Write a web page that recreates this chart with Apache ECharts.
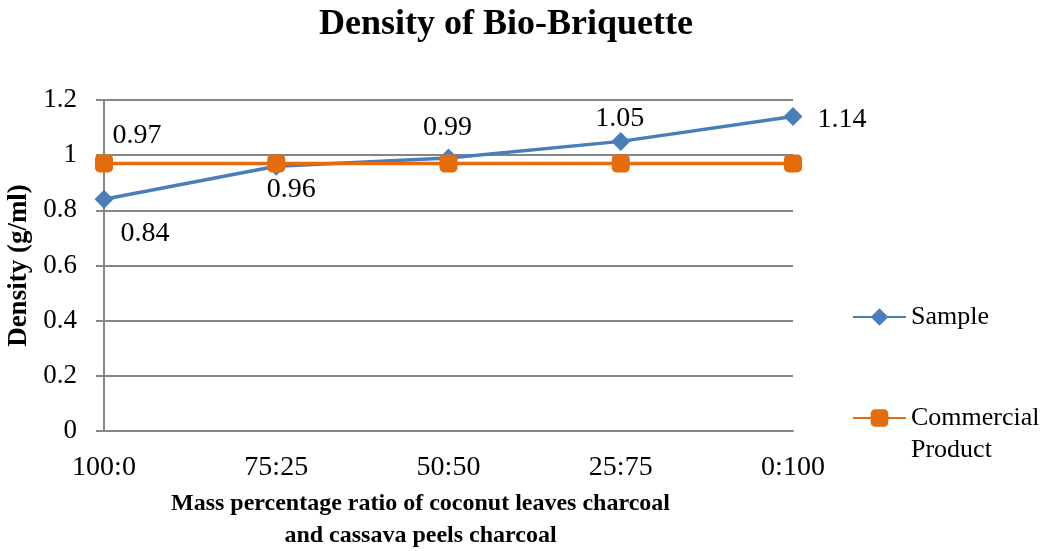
<!DOCTYPE html>
<html>
<head>
<meta charset="utf-8">
<script src="https://cdn.jsdelivr.net/npm/echarts@6/dist/echarts.min.js"></script>
<style>
  html, body { margin: 0; padding: 0; background: #fff; }
  #main { width: 1045px; height: 551px; }
</style>
</head>
<body>
<div id="main"></div>
<script>
const ratios = ['100:0', '75:25', '50:50', '25:75', '0:100'];
const sampleDensity = [0.84, 0.96, 0.99, 1.05, 1.14];
const commercialDensity = [0.97, 0.97, 0.97, 0.97, 0.97];
const yTicks = [0, 0.2, 0.4, 0.6, 0.8, 1, 1.2];

const myChart = echarts.init(document.getElementById('main'));
const serif = '"Liberation Serif", "Times New Roman", serif';

// label offsets from each marker, as in the original figure
const sampleOffsets = [[41, 34], [15, 23], [-1, -30], [-1, -23], [49, 3]];

let option = {
    animation: false,
    title: {
        text: 'Density of Bio-Briquette',
        left: 314,
        top: 2,
        textStyle: { fontFamily: serif, fontSize: 36, fontWeight: 'bold', color: '#000' }
    },
    legend: [
        {
            data: ['Sample'],
            left: 847,
            top: 299,
            itemWidth: 53,
            itemHeight: 22,
            textStyle: { fontFamily: serif, fontSize: 26, color: '#000' }
        },
        {
            data: ['Commercial Product'],
            left: 847,
            top: 365,
            itemWidth: 53,
            itemHeight: 22,
            // blank first line so the marker sits beside "Commercial"
            formatter: function (name) { return ' \n' + name.replace(' ', '\n'); },
            textStyle: { fontFamily: serif, fontSize: 26, lineHeight: 32, color: '#000' }
        }
    ],
    grid: { left: 104, right: 252, top: 100, bottom: 120, outerBoundsMode: 'none' },
    xAxis: {
        type: 'category',
        data: ratios,
        boundaryGap: false,
        name: 'Mass percentage ratio of coconut leaves charcoal\nand cassava peels charcoal',
        nameLocation: 'middle',
        nameGap: 57,
        nameTextStyle: { fontFamily: serif, fontSize: 24, fontWeight: 'bold', color: '#000', lineHeight: 32, padding: [0, 56, 0, 0] },
        axisLine: { lineStyle: { color: '#868686', width: 2 } },
        axisTick: { show: false },
        axisLabel: { fontFamily: serif, fontSize: 28, color: '#000', margin: 23 }
    },
    yAxis: {
        type: 'value',
        min: yTicks[0],
        max: yTicks[yTicks.length - 1],
        interval: 0.2,
        name: 'Density (g/ml)',
        nameLocation: 'middle',
        nameGap: 62,
        nameTextStyle: { fontFamily: serif, fontSize: 27, fontWeight: 'bold', color: '#000', padding: [0, 0, 8, 0] },
        axisLine: { show: true, lineStyle: { color: '#868686', width: 2 } },
        axisTick: { show: true, length: 8, lineStyle: { color: '#868686', width: 2 } },
        splitLine: { lineStyle: { color: '#868686', width: 2 } },
        axisLabel: {
            fontFamily: serif, fontSize: 27, color: '#000', margin: 27,
            formatter: function (v) { return String(Math.round(v * 10) / 10); }
        }
    },
    series: [
        {
            name: 'Commercial Product',
            type: 'line',
            data: commercialDensity.map(function (v, i) {
                return {
                    value: v,
                    label: { show: i === 0, position: 'inside', offset: [33, -28] }
                };
            }),
            symbol: 'roundRect',
            symbolSize: 18,
            itemStyle: { color: '#E46C0A' },
            lineStyle: { color: '#E46C0A', width: 3.5 },
            label: { fontFamily: serif, fontSize: 28, color: '#000' },
            z: 3
        },
        {
            name: 'Sample',
            type: 'line',
            data: sampleDensity.map(function (v, i) {
                return {
                    value: v,
                    label: { show: true, position: 'inside', offset: sampleOffsets[i] }
                };
            }),
            symbol: 'diamond',
            symbolSize: 19,
            itemStyle: { color: '#4A7EBB' },
            lineStyle: { color: '#4A7EBB', width: 3.5 },
            label: { fontFamily: serif, fontSize: 28, color: '#000' },
            z: 2
        }
    ]
};

myChart.setOption(option);
</script>
</body>
</html>
